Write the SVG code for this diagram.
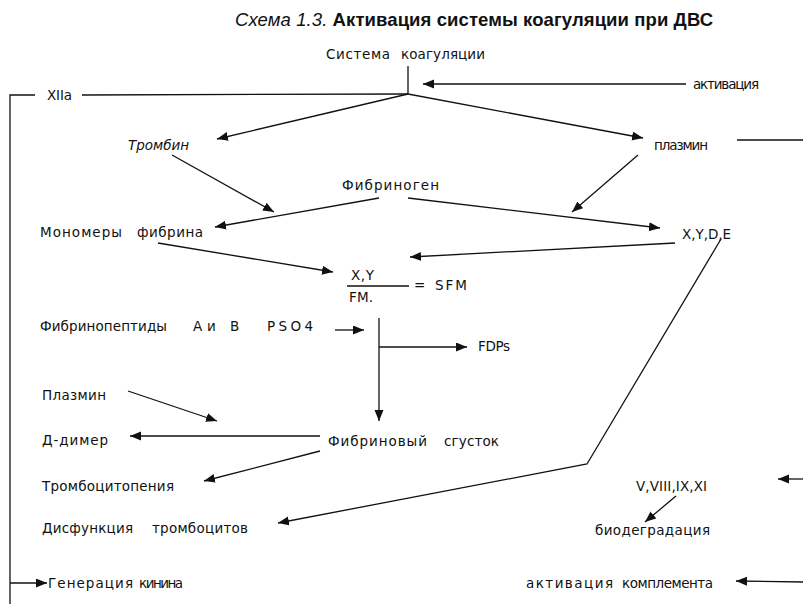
<svg xmlns="http://www.w3.org/2000/svg" width="803" height="604" viewBox="0 0 803 604">
<defs>
<style>
.t{font-family:"DejaVu Sans","Liberation Sans",sans-serif;font-size:13.5px;fill:#111;}
.ti{font-family:"Liberation Sans",Arial,sans-serif;font-size:18.5px;fill:#111;}
.c{stroke:#111;stroke-width:1.3;fill:none;}
.a{marker-end:url(#ah);}
</style>
<marker id="ah" markerUnits="userSpaceOnUse" markerWidth="12" markerHeight="10" refX="11" refY="4.5" orient="auto">
<path d="M0,0 L11,4.5 L0,9 z" fill="#111"/>
</marker>
</defs>
<rect width="803" height="604" fill="#fff"/>

<g id="title">
<text class="ti" x="235" y="26" textLength="478"><tspan font-style="italic">Схема 1.3.</tspan> <tspan font-weight="bold">Активация системы коагуляции при ДВС</tspan></text>
</g>

<g id="connectors">
<line class="c" x1="408" y1="66" x2="408" y2="94"/>
<polyline class="c" points="35,95 10,95 10,604"/>
<line class="c" x1="82" y1="95" x2="408" y2="94"/>
<line class="c a" x1="686" y1="84" x2="423" y2="84"/>
<line class="c a" x1="408" y1="94" x2="217" y2="139"/>
<line class="c a" x1="408" y1="94" x2="643" y2="138"/>
<line class="c" x1="737" y1="140" x2="803" y2="140"/>
<line class="c a" x1="172" y1="155" x2="274" y2="212"/>
<line class="c a" x1="638" y1="155" x2="572" y2="212"/>
<line class="c a" x1="379" y1="198" x2="215" y2="227"/>
<line class="c a" x1="408" y1="198" x2="660" y2="228"/>
<line class="c a" x1="675" y1="243" x2="410" y2="257"/>
<line class="c a" x1="158" y1="243" x2="333" y2="272"/>
<line class="c" x1="347" y1="286" x2="409" y2="286"/>
<line class="c a" x1="335" y1="330" x2="364" y2="330"/>
<line class="c a" x1="379" y1="318" x2="379" y2="421"/>
<line class="c a" x1="379" y1="347" x2="467" y2="347"/>
<line class="c a" x1="128" y1="391" x2="217" y2="421"/>
<line class="c a" x1="320" y1="436" x2="130" y2="436"/>
<line class="c a" x1="320" y1="451" x2="204" y2="481"/>
<polyline class="c a" points="721,239 587,464 278,523"/>
<line class="c a" x1="803" y1="479" x2="778" y2="479"/>
<line class="c a" x1="676" y1="496" x2="645" y2="522"/>
<line class="c a" x1="803" y1="582" x2="736" y2="581"/>
<line class="c a" x1="10" y1="583" x2="47" y2="583"/>
</g>

<g id="n-sistema"><text class="t" y="59"><tspan x="326" textLength="64">Система</tspan> <tspan x="401" textLength="84">коагуляции</tspan></text></g>
<g id="n-aktivaciya"><text class="t" x="693" y="89" font-size="12" textLength="66">активация</text></g>
<g id="n-xiia"><text class="t" x="47" y="100" textLength="25">XIIa</text></g>
<g id="n-trombin"><text class="t" x="128" y="150" textLength="61" font-style="italic">Тромбин</text></g>
<g id="n-plazmin1"><text class="t" x="654" y="150" textLength="54">плазмин</text></g>
<g id="n-fibrinogen"><text class="t" x="342" y="190" textLength="97">Фибриноген</text></g>
<g id="n-monomery"><text class="t" y="237"><tspan x="40" textLength="82">Мономеры</tspan> <tspan x="137" textLength="66">фибрина</tspan></text></g>
<g id="n-xyde"><text class="t" x="682" y="239" textLength="49">X,Y,D,E</text></g>
<g id="n-sfm">
<text class="t" x="351" y="280" textLength="23">X,Y</text>
<text class="t" x="349" y="302" textLength="24">FM.</text>
<text class="t" x="414" y="290" font-size="10">=</text>
<text class="t" x="435" y="290" textLength="32">SFM</text>
</g>
<g id="n-fibrinopeptidy"><text class="t" y="331"><tspan x="40" textLength="127">Фибринопептиды</tspan> <tspan x="193">А</tspan> <tspan x="207">и</tspan> <tspan x="230">В</tspan></text></g>
<g id="n-pso4"><text class="t" x="267" y="331" textLength="46">PSO4</text></g>
<g id="n-fdps"><text class="t" x="478" y="351" textLength="32">FDPs</text></g>
<g id="n-plazmin2"><text class="t" x="42" y="400" textLength="64">Плазмин</text></g>
<g id="n-ddimer"><text class="t" x="42" y="445" textLength="66">Д-димер</text></g>
<g id="n-sgustok"><text class="t" y="446"><tspan x="328" textLength="99">Фибриновый</tspan> <tspan x="444" textLength="55">сгусток</tspan></text></g>
<g id="n-trombocitopeniya"><text class="t" x="42" y="491" textLength="132">Тромбоцитопения</text></g>
<g id="n-factors"><text class="t" x="636" y="491" textLength="71">V,VIII,IX,XI</text></g>
<g id="n-disfunkciya"><text class="t" y="533"><tspan x="42" textLength="91">Дисфункция</tspan> <tspan x="152" textLength="96">тромбоцитов</tspan></text></g>
<g id="n-biodegradaciya"><text class="t" x="595" y="535" textLength="115">биодеградация</text></g>
<g id="n-kinin"><text class="t" y="588"><tspan x="48" textLength="85">Генерация</tspan> <tspan x="139" textLength="44">кинина</tspan></text></g>
<g id="n-komplement"><text class="t" y="588"><tspan x="526" textLength="87">активация</tspan> <tspan x="622" textLength="91">комплемента</tspan></text></g>
</svg>
